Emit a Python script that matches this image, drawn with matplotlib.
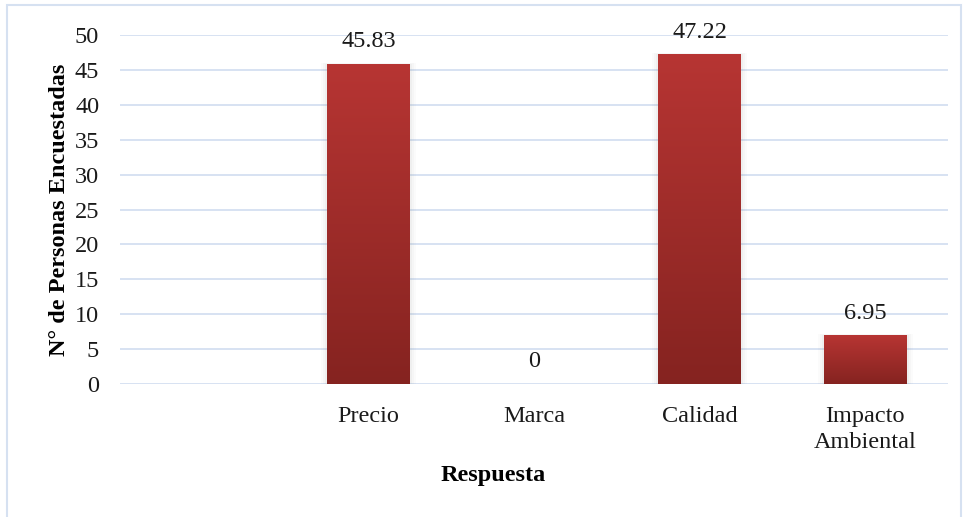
import numpy as np
import matplotlib
matplotlib.use("Agg")
import matplotlib.pyplot as plt
from matplotlib.patches import Rectangle
from matplotlib.colors import LinearSegmentedColormap

categories = ["", "Precio", "Marca", "Calidad", "Impacto\nAmbiental"]
values = [None, 45.83, 0, 47.22, 6.95]
labels = ["", "45.83", "0", "47.22", "6.95"]
yticks = [0, 5, 10, 15, 20, 25, 30, 35, 40, 45, 50]

plt.rcParams["font.family"] = ["Liberation Serif", "DejaVu Serif"]
FS = 17.5

fig = plt.figure(figsize=(9.66, 5.17), dpi=100)
ax = fig.add_axes([120 / 966, 1 - 384 / 517, (948 - 120) / 966, (384 - 35) / 517])

# outer chart frame
fig.patches.append(Rectangle((7 / 966, -0.02), (961 - 7) / 966, (1 - 5 / 517) + 0.02,
                             transform=fig.transFigure, fill=False,
                             edgecolor="#D6E1F1", linewidth=1.5))

x = np.arange(len(categories))

for t in yticks:
    ax.axhline(t, color="#D7E2F2", linewidth=1.4, zorder=0)

cmap = LinearSegmentedColormap.from_list("bar", ["#852320", "#B73533"])
grad = np.linspace(0, 1, 256).reshape(-1, 1)
bw = 0.5
for xi, v, lab in zip(x, values, labels):
    if v is None:
        continue
    if v > 0:
        # soft shadow
        for k, a in enumerate([0.05, 0.04, 0.03]):
            d = 0.012 * (k + 1)
            ax.add_patch(Rectangle((xi - bw / 2 - d, -0.3), bw + 2 * d, v + 0.3 + d * 6,
                                   facecolor="#808080", alpha=a, linewidth=0, zorder=1))
        ax.imshow(grad, cmap=cmap, aspect="auto", origin="lower",
                  extent=(xi - bw / 2, xi + bw / 2, 0, v), zorder=2)
    ax.annotate(lab, (xi, v), xytext=(0, 16), textcoords="offset points",
                ha="center", va="center", fontsize=FS, color="#1a1a1a")

ax.set_xlim(-0.5, len(categories) - 0.5)
ax.set_ylim(0, 50)
ax.set_xticks(x)
ax.set_xticklabels(categories, fontsize=FS, color="#1a1a1a", linespacing=1.3)
ax.set_yticks(yticks)
ax.set_yticklabels([str(t) for t in yticks], fontsize=FS, color="#1a1a1a")
ax.tick_params(axis="both", length=0)
ax.tick_params(axis="x", pad=16)
ax.tick_params(axis="y", pad=15)
for s in ax.spines.values():
    s.set_visible(False)

fig.text(493 / 966, 1 - 476 / 517, "Respuesta", ha="center", va="center",
         fontsize=FS, fontweight="bold", color="#000000")
fig.text(60 / 966, 1 - 210 / 517, "N° de Personas Encuestadas", ha="center", va="center",
         rotation=90, fontsize=FS, fontweight="bold", color="#000000")

fig.savefig("out.png", dpi=100, facecolor="white")
